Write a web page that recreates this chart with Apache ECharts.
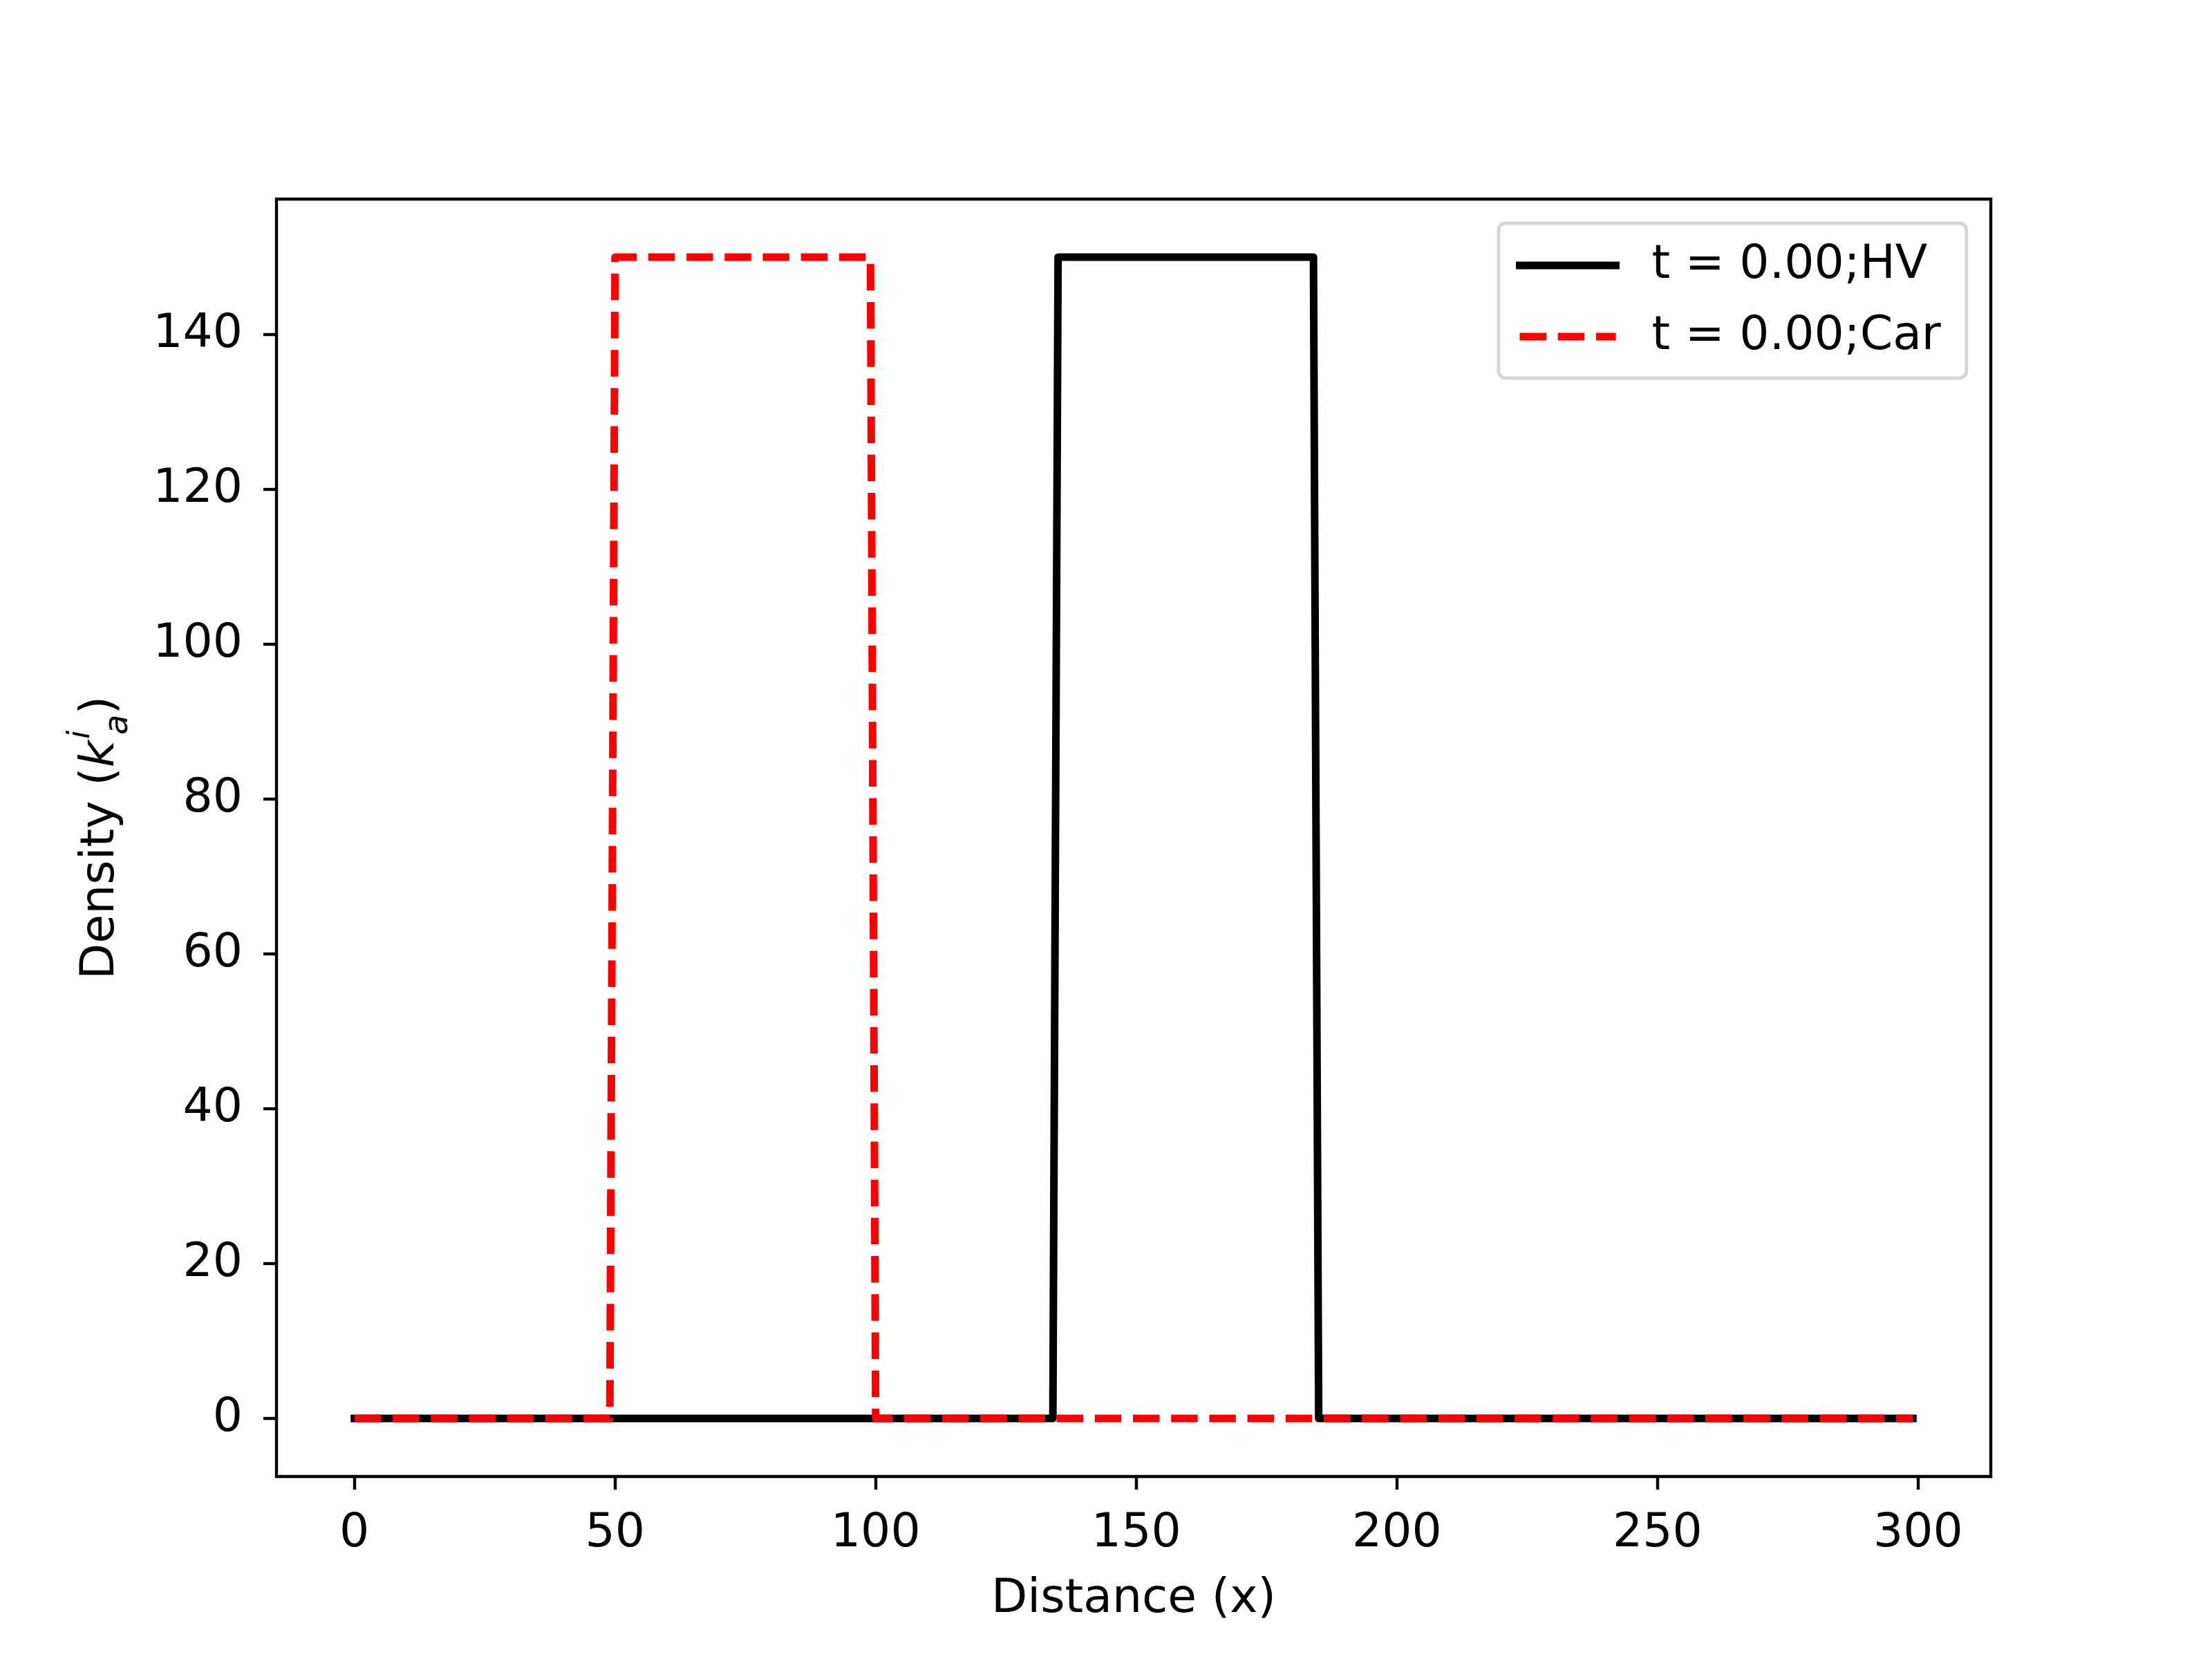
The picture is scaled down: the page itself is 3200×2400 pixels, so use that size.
<!DOCTYPE html>
<html>
<head>
<meta charset="utf-8">
<title>Density</title>
<script src="https://cdn.jsdelivr.net/npm/echarts@6/dist/echarts.min.js"></script>
<style>
  html, body { margin: 0; padding: 0; background: #fff; }
  #chart { width: 3200px; height: 2400px; }
</style>
</head>
<body>
<div id="chart"></div>
<script>
// breakpoints of the two step profiles (x in cells, density)
const hvX = [0, 134, 135, 184, 185, 299]
const hvY = [0, 0, 150, 150, 0, 0]
const carX = [0, 49, 50, 99, 100, 299]
const carY = [0, 0, 150, 150, 0, 0]

const seriesNames = ['t = 0.00;HV', 't = 0.00;Car']
const xTicks = [0, 50, 100, 150, 200, 250, 300]
const yTicks = [0, 20, 40, 60, 80, 100, 120, 140]

const FONT = 'DejaVu Sans'
const FS = 68

const hvLine = { color: '#000000', width: 11, type: 'solid', cap: 'square', join: 'round' }
const carLine = { color: '#ff0000', width: 11, type: [38.5, 16.7], cap: 'butt', join: 'round' }

const chart = echarts.init(document.getElementById('chart'), null, { renderer: 'canvas' })

const toPairs = (xs, ys) => xs.map((x, i) => [x, ys[i]])

const option = {
  animation: false,
  backgroundColor: '#ffffff',
  textStyle: { fontFamily: FONT },
  grid: {
    left: 400,
    right: 320,
    top: 288,
    bottom: 264,
    show: true,
    borderColor: '#000',
    borderWidth: 4.4,
    backgroundColor: 'transparent'
  },
  legend: {
    orient: 'vertical',
    left: 2168,
    top: 323,
    data: [
      { name: seriesNames[0], lineStyle: hvLine },
      { name: seriesNames[1], lineStyle: carLine }
    ],
    itemWidth: 139,
    itemHeight: 11,
    itemGap: 23,
    padding: [21, 37, 20, 25],
    borderColor: '#d6d6d6',
    borderWidth: 5,
    borderRadius: 10,
    backgroundColor: '#ffffff',
    itemStyle: { opacity: 0 },
    lineStyle: { width: 11 },
    textStyle: {
      fontFamily: FONT,
      fontSize: FS,
      color: '#000',
      lineHeight: 80,
      padding: [0, 0, 0, 47]
    }
  },
  xAxis: {
    type: 'value',
    min: -14.95,
    max: 313.95,
    name: 'Distance (x)',
    nameLocation: 'middle',
    nameGap: 144,
    nameTextStyle: { fontFamily: FONT, fontSize: FS, color: '#000' },
    splitLine: { show: false },
    axisLine: { show: false, onZero: false },
    axisTick: {
      show: true,
      inside: false,
      length: 19,
      customValues: xTicks,
      lineStyle: { color: '#000', width: 4.4 }
    },
    axisLabel: {
      customValues: xTicks,
      margin: 49,
      fontFamily: FONT,
      fontSize: FS,
      color: '#000'
    }
  },
  yAxis: {
    type: 'value',
    min: -7.5,
    max: 157.5,
    name: '{t|Density (}{k|k}{i|i}{a|a}{t|)}',
    nameLocation: 'middle',
    nameRotate: 90,
    nameGap: 204,
    nameTextStyle: {
      fontFamily: FONT,
      fontSize: FS,
      color: '#000',
      rich: {
        t: { fontFamily: FONT, fontSize: FS, color: '#000', lineHeight: 100 },
        k: { fontFamily: FONT, fontSize: FS, fontStyle: 'italic', color: '#000', lineHeight: 100 },
        i: { fontFamily: FONT, fontSize: 44, fontStyle: 'italic', color: '#000', lineHeight: 44, verticalAlign: 'top', width: 0, padding: [0, 0, 0, 8] },
        a: { fontFamily: FONT, fontSize: 48, fontStyle: 'italic', color: '#000', lineHeight: 48, verticalAlign: 'bottom' }
      }
    },
    splitLine: { show: false },
    axisLine: { show: false, onZero: false },
    axisTick: {
      show: true,
      inside: false,
      length: 19,
      customValues: yTicks,
      lineStyle: { color: '#000', width: 4.4 }
    },
    axisLabel: {
      customValues: yTicks,
      margin: 49,
      fontFamily: FONT,
      fontSize: FS,
      color: '#000'
    }
  },
  series: [
    {
      name: seriesNames[0],
      type: 'line',
      data: toPairs(hvX, hvY),
      symbol: 'none',
      showSymbol: false,
      lineStyle: hvLine,
      itemStyle: { color: '#000000' }
    },
    {
      name: seriesNames[1],
      type: 'line',
      data: toPairs(carX, carY),
      symbol: 'none',
      showSymbol: false,
      lineStyle: carLine,
      itemStyle: { color: '#ff0000' }
    }
  ]
}

chart.setOption(option)
</script>
</body>
</html>
